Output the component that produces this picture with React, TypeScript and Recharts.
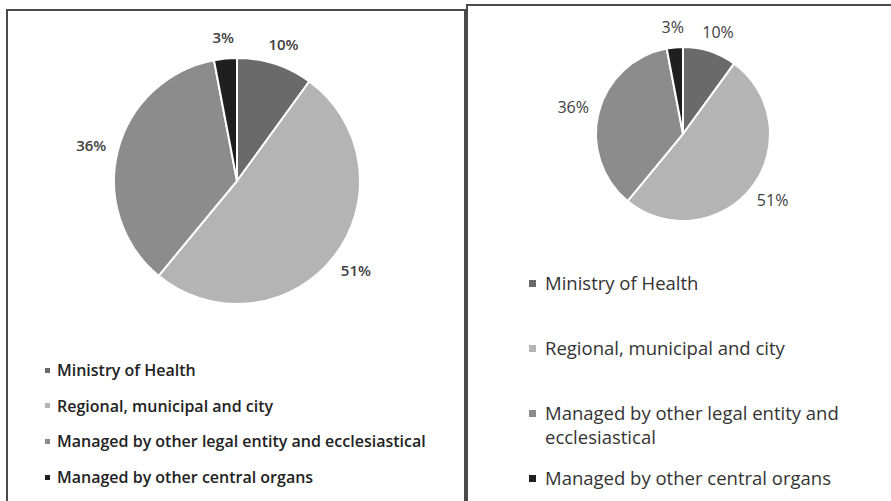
import { PieChart, Pie, Cell, Legend } from 'recharts';

const categories = [
  'Ministry of Health',
  'Regional, municipal and city',
  'Managed by other legal entity and ecclesiastical',
  'Managed by other central organs',
];
const shares = [10, 51, 36, 3];
const colors = ['#6a6a6a', '#b4b4b4', '#8c8c8c', '#1f1f1f'];

const data = categories.map((name, i) => ({ name, value: shares[i] }));

const RADIAN = Math.PI / 180;
const FONT = '"Open Sans", "Liberation Sans", sans-serif';

// label placed just outside the slice, with the text box edge facing the pie
function makeLabel(gap: number, fontSize: number, fontWeight: number) {
  return (props: any) => {
    const { cx, cy, midAngle, outerRadius, value } = props;
    const text = `${value}%`;
    const halfW = text.length * fontSize * 0.3;
    const halfH = fontSize * 0.5;
    const cos = Math.cos(-midAngle * RADIAN);
    const sin = Math.sin(-midAngle * RADIAN);
    const r = outerRadius + gap;
    const x = cx + r * cos + halfW * cos;
    const y = cy + r * sin + halfH * sin;
    return (
      <text
        x={x}
        y={y}
        fill="#404040"
        textAnchor="middle"
        dominantBaseline="central"
        fontSize={fontSize}
        fontWeight={fontWeight}
        fontFamily={FONT}
      >
        {text}
      </text>
    );
  };
}

function LegendList({ rowHeight, lineHeight, fontSize, fontWeight, box, gap, color, width }: any) {
  return (
    <div style={{ fontFamily: FONT, fontSize, fontWeight, color, width }}>
      {categories.map((c, i) => (
        <div key={c} style={{ height: rowHeight, display: 'flex', alignItems: 'flex-start', lineHeight: `${lineHeight}px` }}>
          <span
            style={{
              display: 'inline-block',
              width: box,
              height: box,
              background: colors[i],
              marginTop: (lineHeight - box) / 2,
              marginRight: gap,
              flexShrink: 0,
            }}
          />
          <span>{c}</span>
        </div>
      ))}
    </div>
  );
}

export default function App() {
  return (
    <div style={{ position: 'absolute', left: 0, top: 0, width: 891, height: 501, background: '#fff', overflow: 'hidden' }}>
      {/* left panel */}
      <div style={{ position: 'absolute', left: 6, top: 9, width: 456, height: 500, border: '2px solid #4a4a4a', borderBottom: 'none' }} />
      <div style={{ position: 'absolute', left: 0, top: 0 }}>
        <PieChart width={465} height={501}>
          <Pie
            data={data}
            dataKey="value"
            nameKey="name"
            cx={232}
            cy={176}
            outerRadius={123}
            startAngle={90}
            endAngle={-270}
            stroke="#ffffff"
            strokeWidth={2}
            label={makeLabel(14, 15, 600)}
            labelLine={false}
            isAnimationActive={false}
          >
            {data.map((d, i) => (
              <Cell key={d.name} fill={colors[i]} />
            ))}
          </Pie>
          <Legend
            content={() => (
              <LegendList rowHeight={35.7} lineHeight={20} fontSize={16} fontWeight={600} box={5} gap={7} color="#222" width={420} />
            )}
            wrapperStyle={{ position: 'absolute', left: 45, top: 360, width: 420 }}
          />
        </PieChart>
      </div>

      {/* right panel */}
      <div style={{ position: 'absolute', left: 466, top: 4, width: 430, height: 510, border: '2px solid #4a4a4a', borderBottom: 'none', borderRight: 'none' }} />
      <div style={{ position: 'absolute', left: 466, top: 0 }}>
        <PieChart width={425} height={501}>
          <Pie
            data={data}
            dataKey="value"
            nameKey="name"
            cx={212}
            cy={129}
            outerRadius={87}
            startAngle={90}
            endAngle={-270}
            stroke="#ffffff"
            strokeWidth={2}
            label={makeLabel(12, 16, 400)}
            labelLine={false}
            isAnimationActive={false}
          >
            {data.map((d, i) => (
              <Cell key={d.name} fill={colors[i]} />
            ))}
          </Pie>
          <Legend
            content={() => (
              <LegendList rowHeight={65} lineHeight={24} fontSize={18.5} fontWeight={400} box={7} gap={9} color="#333" width={330} />
            )}
            wrapperStyle={{ position: 'absolute', left: 63, top: 271, width: 330 }}
          />
        </PieChart>
      </div>
    </div>
  );
}
